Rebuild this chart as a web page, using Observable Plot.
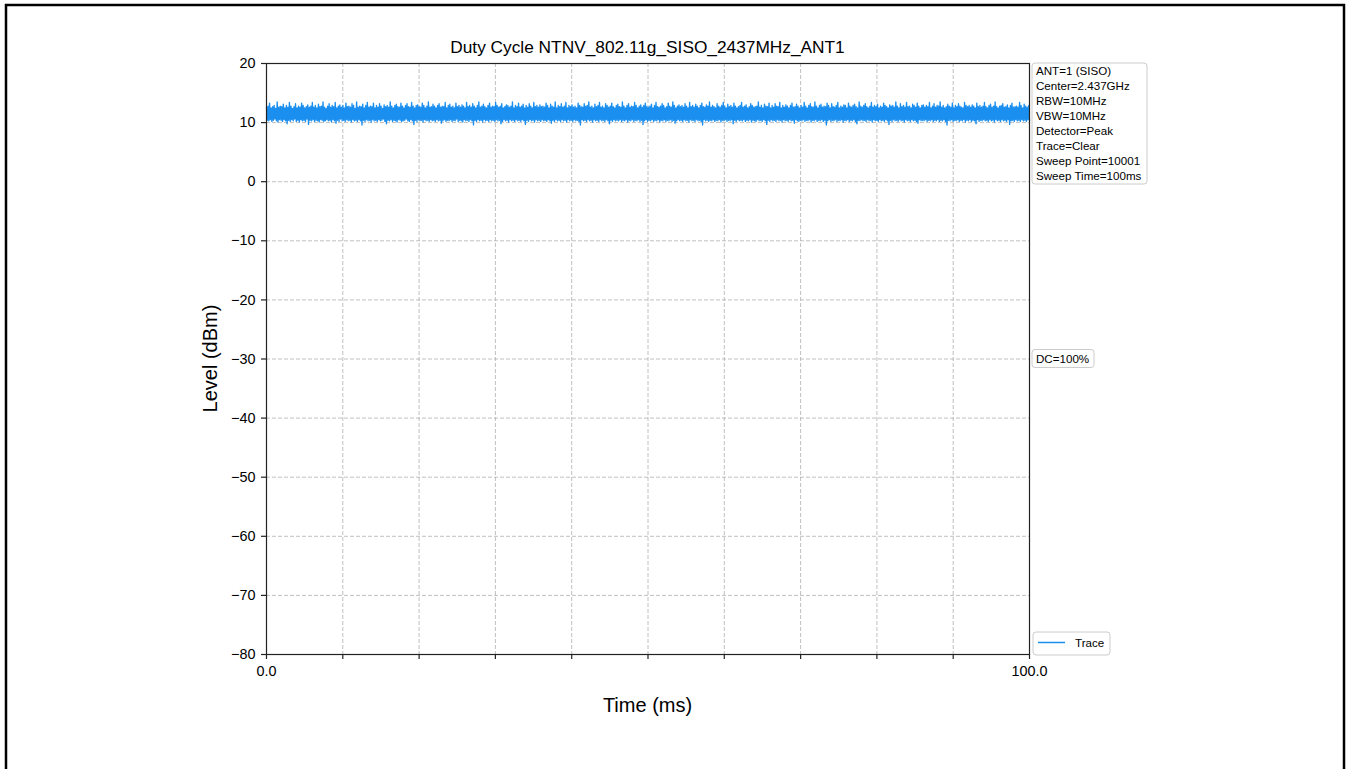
<!DOCTYPE html>
<html><head><meta charset="utf-8">
<script src="https://cdn.jsdelivr.net/npm/d3@7"></script>
<script src="https://cdn.jsdelivr.net/npm/@observablehq/plot@0.6"></script>
<style>body{margin:0;background:#fff;} svg{display:block;}</style>
</head><body><div id="chart"></div>
<script>
const chartTitle = "Duty Cycle NTNV_802.11g_SISO_2437MHz_ANT1";
const xLabel = "Time (ms)";
const yLabel = "Level (dBm)";
const sweepTimeMs = 100;
const seriesName = "Trace";
const dutyCycleLabel = "DC=100%";
const infoLines = ["ANT=1 (SISO)", "Center=2.437GHz", "RBW=10MHz", "VBW=10MHz", "Detector=Peak", "Trace=Clear", "Sweep Point=10001", "Sweep Time=100ms"];
const xTicks = [0, 10, 20, 30, 40, 50, 60, 70, 80, 90, 100];
const xLabeledTicks = [0, 100];
const yTicks = [-80, -70, -60, -50, -40, -30, -20, -10, 0, 10, 20];
const levelsDbm = [
12.6,10.4,12.8,10.3,13.3,10.5,12.5,10.2,12.7,10.4,12.9,10.6,12.4,10.3,13.5,10.1,12.6,10.5,12.8,10.4,
12.7,10.2,13.1,10.5,12.5,10.3,12.9,9.8,12.6,10.4,13.4,10.2,12.8,10.5,12.4,10.3,12.7,10.6,13.2,10.2,
12.5,10.4,12.8,10.1,12.6,10.5,13.3,10.3,12.9,10.4,12.5,10.2,12.7,10.6,13.0,9.7,12.6,10.4,12.8,10.3,
13.4,10.5,12.6,10.2,12.9,10.4,12.5,10.3,13.1,10.1,12.7,10.5,12.8,10.4,13.5,10.2,12.6,10.3,12.4,10.5,
12.8,10.3,13.2,10.4,12.6,10.1,12.9,10.5,12.7,10.3,13.4,9.9,12.5,10.4,12.8,10.2,13.0,10.6,12.6,10.3,
12.9,10.4,12.5,10.2,13.3,10.5,12.7,10.3,12.8,10.4,12.6,10.1,13.2,10.5,12.9,10.3,12.4,10.4,13.5,10.2,
12.6,10.5,12.8,10.3,12.7,9.6,13.1,10.4,12.5,10.2,12.9,10.5,13.4,10.3,12.6,10.4,12.8,10.1,12.7,10.5,
13.3,10.3,12.5,10.4,12.9,10.2,12.6,10.5,13.2,10.3,12.8,10.4,12.4,10.6,13.0,10.2,12.7,9.8,12.9,10.4,
12.6,10.3,13.5,10.5,12.8,10.2,12.5,10.4,12.9,10.3,13.1,10.1,12.7,10.5,12.6,10.4,13.3,10.2,12.8,10.3,
12.5,10.4,12.9,10.6,13.2,10.3,12.7,10.2,12.6,10.5,13.4,10.3,12.8,9.7,12.5,10.4,12.9,10.2,13.0,10.5,
12.7,10.3,12.6,10.4,13.3,10.1,12.9,10.5,12.5,10.3,12.8,10.4,13.5,10.2,12.6,10.5,12.7,10.3,13.1,10.4,
12.8,10.2,12.5,10.5,12.9,10.3,13.2,10.4,12.6,9.9,12.8,10.3,12.7,10.5,13.4,10.2,12.5,10.4,12.9,10.3,
13.1,10.5,12.6,10.2,12.8,10.4,12.5,10.3,13.3,10.6,12.7,10.2,12.9,10.4,12.6,10.3,13.0,10.1,12.8,10.5,
12.5,10.3,13.4,10.4,12.7,10.2,12.9,10.5,12.6,10.3,13.2,9.6,12.8,10.4,12.5,10.2,12.9,10.5,13.5,10.3,
12.6,10.4,12.8,10.1,13.1,10.5,12.7,10.3,12.5,10.4,12.9,10.2,13.3,10.5,12.6,10.3,12.8,10.4,12.7,10.2,
13.4,10.5,12.9,10.3,12.6,10.4,12.8,9.8,13.2,10.2,12.5,10.5,12.7,10.3,13.0,10.4,12.9,10.1,12.6,10.5,
12.8,10.3,13.5,10.4,12.5,10.2,12.9,10.5,12.7,10.3,13.3,10.4,12.6,10.2,12.8,10.5,13.1,10.3,12.5,9.7,
12.9,10.4,12.6,10.2,13.2,10.5,12.8,10.3,12.5,10.4,13.4,10.1,12.7,10.5,12.9,10.3,12.6,10.4,13.0,10.2,
12.7,10.5,12.8,10.3,12.6,10.4,13.3,10.2,12.9,10.5,12.5,10.3,13.1,9.9,12.8,10.4,12.6,10.2,13.5,10.5,
12.5,10.3,12.9,10.4,12.7,10.2,13.2,10.5,12.6,10.3,12.8,10.4,13.4,10.1,12.5,10.5,12.9,10.3,12.7,10.4,
13.0,10.2,12.6,10.5,12.8,10.3,12.5,10.4,13.3,10.2,12.9,9.6,12.7,10.5,12.6,10.3,13.2,10.4,12.8,10.2,
12.9,10.5,13.5,10.3,12.6,10.4,12.8,10.1,12.5,10.5,13.1,10.3,12.7,10.4,12.9,10.2,13.4,10.5,12.6,10.3,
12.8,10.4,12.5,10.2,13.2,10.5,12.9,10.3,12.6,9.8,12.8,10.4,13.3,10.2,12.7,10.5,12.5,10.3,12.9,10.4,
13.1,10.3,12.7,10.5,12.6,10.2,13.5,10.4,12.8,10.3,12.5,10.5,12.9,10.1,13.2,10.4,12.6,10.3,12.8,10.5,
12.7,10.2,13.4,10.4,12.9,10.3,12.5,10.5,12.8,10.2,13.0,10.4,12.6,9.7,12.9,10.3,13.3,10.5,12.7,10.2,
12.6,10.4,12.8,10.3,13.1,10.5,12.5,10.2,12.9,10.4,13.4,10.3,12.7,10.5,12.6,10.1,12.8,10.4,13.2,10.3,
12.9,10.5,12.5,10.2,12.7,10.4,13.3,10.3,12.8,10.5,12.6,10.2,13.5,10.4,12.9,9.9,12.5,10.3,12.8,10.5,
13.0,10.3,12.7,10.4,12.9,10.2,12.6,10.5,13.2,10.3,12.8,10.4,12.5,10.1,13.4,10.5,12.7,10.3,12.9,10.4,
12.6,10.2,13.1,10.5,12.8,10.3,12.5,10.4,12.9,10.2,13.3,9.6,12.7,10.5,12.6,10.3,13.0,10.4,12.8,10.2,
13.5,10.4,12.6,10.3,12.9,10.5,12.7,10.2,12.5,10.4,13.2,10.3,12.8,10.5,12.6,10.1,12.9,10.4,13.4,10.3,
12.8,10.5,12.5,10.2,13.1,10.4,12.7,10.3,12.9,10.5,12.6,9.8,13.3,10.4,12.8,10.2,12.5,10.5,12.7,10.3,
12.9,10.4,13.4,10.3,12.6,10.5,12.8,10.2,13.0,10.4,12.5,10.3,12.7,10.5,13.2,10.1,12.9,10.4,12.6,10.3,
12.7,10.2,12.8,10.5,13.5,10.3,12.6,10.4,12.9,10.2,12.5,10.5,13.1,10.3,12.8,9.7,12.7,10.4,13.3,10.2,
12.5,10.5,12.9,10.3,12.6,10.4,13.2,10.2,12.8,10.5,12.7,10.3,13.4,10.4,12.5,10.1,12.9,10.5,12.6,10.3,
13.0,10.4,12.8,10.2,12.5,10.5,12.9,10.3,13.3,10.4,12.6,9.9,12.7,10.5,13.1,10.3,12.8,10.2,12.5,10.4,
12.9,10.3,12.6,10.5,13.4,10.2,12.8,10.4,12.5,10.3,12.9,10.5,13.2,10.1,12.7,10.4,12.6,10.3,13.5,10.5,
12.8,10.2,12.5,10.4,12.9,10.3,13.1,10.5,12.6,10.2,12.8,10.4,12.7,9.6,13.3,10.3,12.9,10.5,12.5,10.2,
13.2,10.4,12.7,10.3,12.6,10.5,12.9,10.2,13.4,10.4,12.5,10.3,12.8,10.5,12.6,10.1,13.0,10.4,12.9,10.3,
12.5,10.5,13.3,10.2,12.8,10.4,12.6,10.3,12.9,10.5,13.1,10.2,12.7,9.8,12.5,10.4,13.5,10.3,12.8,10.5,
12.6,10.3,12.9,10.4,13.2,10.2,12.7,10.5,12.5,10.3,12.8,10.4,13.4,10.1,12.6,10.5,12.9,10.3,12.7,10.4,
13.1,10.2,12.5,10.5,12.8,10.3,12.6,10.4,13.3,10.2,12.9,10.5,12.7,10.3,12.5,9.7,13.0,10.4,12.8,10.2,
12.9,10.5,12.6,10.3,13.5,10.4,12.8,10.2,12.5,10.5,13.2,10.3,12.7,10.4,12.9,10.1,12.6,10.5,13.4,10.3,
12.7,10.4,12.8,10.2,12.5,10.5,13.1,10.3,12.9,10.4,12.6,10.2,13.3,9.9,12.8,10.5,12.5,10.3,12.9,10.4,
13.0,10.3,12.6,10.5,12.9,10.2,12.7,10.4,13.4,10.3,12.5,10.5,12.8,10.2,13.2,10.4,12.6,10.3,12.9,10.5,
12.8,10.2,13.5,10.4,12.6,10.3,12.9,10.5,12.5,10.2,12.7,9.6,13.1,10.4,12.8,10.3,12.6,10.5,13.3,10.2,
12.5,10.4,12.9,10.3,12.7,10.5,13.2,10.2,12.8,10.4,12.6,10.3,12.5,10.5,13.4,10.1,12.9,10.4,12.7,10.3,
12.9,10.5,12.6,10.2,13.0,10.4,12.8,10.3,12.5,9.8,13.3,10.5,12.7,10.2,12.9,10.4,12.6,10.3,12.8,10.5,
13.4,10.3,12.7,10.4,12.5,10.2,12.9,10.5,13.1,10.3,12.6,10.4,12.8,10.1,13.5,10.5,12.7,10.3,12.5,10.4,
12.8,10.2,12.9,10.5,13.2,10.3,12.6,10.4,12.7,10.2,13.0,10.5,12.5,9.7,12.9,10.3,13.3,10.4,12.6,10.2,
12.7,10.5,12.8,10.3,12.6,10.4,13.4,10.2,12.9,10.5,12.5,10.3,13.1,10.4,12.8,10.2,12.6,10.5,12.9,10.3
];

const trace = levelsDbm.map((v, i) => ({time: i * sweepTimeMs / (levelsDbm.length - 1), level: v}));
const FONT = "'Liberation Sans', Arial, sans-serif";
const gridStyle = {stroke: "#b0b0b0", strokeOpacity: 1, strokeDasharray: "4,2", strokeWidth: 0.8};

const plot = Plot.plot({
  width: 1348, height: 769,
  marginLeft: 266, marginRight: 319, marginTop: 63, marginBottom: 115,
  style: {fontFamily: FONT, fontSize: "14.4px", color: "#000", background: "#fff", overflow: "visible"},
  x: {domain: [0, sweepTimeMs]},
  y: {domain: [-80, 20]},
  marks: [
    Plot.gridX(xTicks, gridStyle),
    Plot.gridY(yTicks, gridStyle),
    Plot.lineY(trace, {x: "time", y: "level", stroke: "#1a8ff0", strokeWidth: 1.35}),
    Plot.frame({stroke: "#222", strokeWidth: 1.2}),
    Plot.axisX(xTicks, {tickSize: 5, tickPadding: 6, stroke: "#222", strokeWidth: 1.2, label: null,
      tickFormat: d => xLabeledTicks.includes(d) ? d.toFixed(1) : ""}),
    Plot.axisY(yTicks, {tickSize: 5, tickPadding: 6, stroke: "#222", strokeWidth: 1.2, label: null,
      tickFormat: d => d < 0 ? "\u2212" + Math.abs(d) : String(d)})
  ]
});
document.getElementById("chart").appendChild(plot);

(function () {
  const svg = d3.select(plot);
  const sx = plot.scale("x"), sy = plot.scale("y");
  const pLeft = sx.apply(0), pRight = sx.apply(sweepTimeMs);
  const pTop = sy.apply(20), pBottom = sy.apply(-80);

  svg.append("rect").attr("x", 6).attr("y", 5).attr("width", 1338).attr("height", 800)
    .attr("fill", "none").attr("stroke", "#000").attr("stroke-width", 2.5);

  svg.append("text").attr("x", (pLeft + pRight) / 2).attr("y", pTop - 10)
    .attr("text-anchor", "middle").attr("font-family", FONT).attr("font-size", "17.3px").attr("fill", "#000")
    .text(chartTitle);
  svg.append("text").attr("x", (pLeft + pRight) / 2).attr("y", 705).attr("dy", "0.35em")
    .attr("text-anchor", "middle").attr("font-family", FONT).attr("font-size", "20px").attr("fill", "#000")
    .text(xLabel);
  svg.append("text").attr("transform", `translate(210,${(pTop + pBottom) / 2}) rotate(-90)`).attr("dy", "0.35em")
    .attr("text-anchor", "middle").attr("font-family", FONT).attr("font-size", "20px").attr("fill", "#000")
    .text(yLabel);

  const boxX = pRight + 3;
  const lineH = 15;
  const info = svg.append("g").attr("font-family", FONT).attr("font-size", "11.6px").attr("fill", "#000").attr("text-anchor", "start");
  info.append("rect").attr("x", boxX).attr("y", pTop).attr("width", 115).attr("height", infoLines.length * lineH + 1)
    .attr("rx", 3).attr("fill", "#fff").attr("fill-opacity", 0.8).attr("stroke", "#cccccc");
  info.selectAll("text.l").data(infoLines).join("text").attr("class", "l")
    .attr("x", boxX + 4).attr("y", (d, i) => pTop + 8 + i * lineH).attr("dy", "0.35em").text(d => d);

  const dcY = sy.apply(-30);
  const dc = svg.append("g").attr("font-family", FONT).attr("font-size", "11.6px").attr("fill", "#000").attr("text-anchor", "start");
  dc.append("rect").attr("x", boxX).attr("y", dcY - 9).attr("width", 62).attr("height", 18)
    .attr("rx", 3).attr("fill", "#fff").attr("stroke", "#cccccc");
  dc.append("text").attr("x", boxX + 4).attr("y", dcY).attr("dy", "0.35em").text(dutyCycleLabel);

  const lg = svg.append("g").attr("font-family", FONT).attr("font-size", "11.6px").attr("fill", "#000").attr("text-anchor", "start");
  lg.append("rect").attr("x", boxX + 1).attr("y", pBottom - 22).attr("width", 77).attr("height", 23)
    .attr("rx", 3).attr("fill", "#fff").attr("stroke", "#cccccc");
  lg.append("line").attr("x1", boxX + 6).attr("x2", boxX + 33).attr("y1", pBottom - 11.5).attr("y2", pBottom - 11.5)
    .attr("stroke", "#1a8ff0").attr("stroke-width", 1.5);
  lg.append("text").attr("x", boxX + 43).attr("y", pBottom - 11).attr("dy", "0.35em").text(seriesName);
})();
</script>
</body></html>
